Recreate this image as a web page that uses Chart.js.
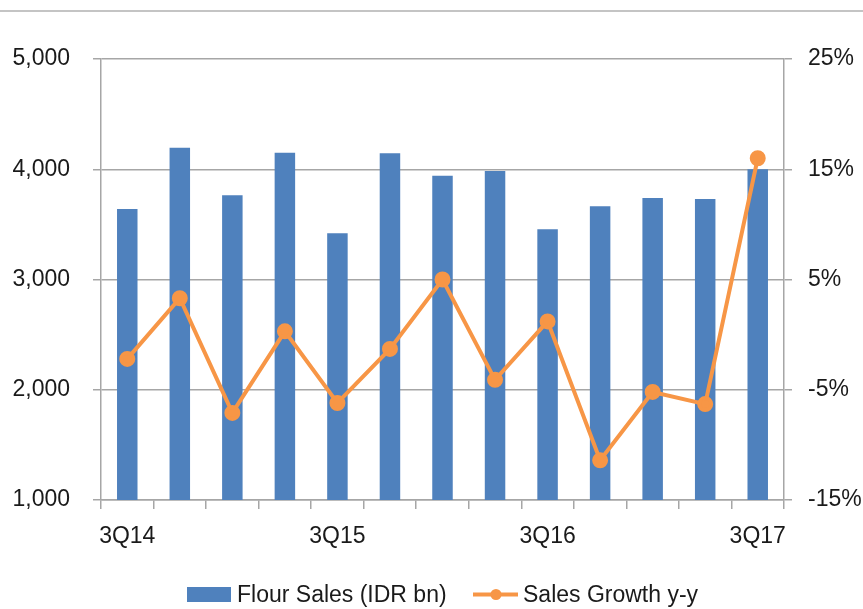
<!DOCTYPE html>
<html>
<head>
<meta charset="utf-8">
<script src="https://cdn.jsdelivr.net/npm/chart.js@4/dist/chart.umd.min.js"></script>
<style>
  html, body { margin: 0; padding: 0; background: #fff; overflow: hidden; }
  #wrap { position: relative; width: 863px; height: 609px; overflow: hidden; }
  #topline { position: absolute; left: 0; top: 10px; width: 863px; height: 2px; background: #c4c4c4; }
  #box { position: absolute; left: 0; top: 0; width: 863px; height: 609px; }
</style>
</head>
<body>
<div id="wrap">
  <div id="topline"></div>
  <div id="box"><canvas id="grafico"></canvas></div>
</div>
<script>
const categorias = ['3Q14', '4Q14', '1Q15', '2Q15', '3Q15', '4Q15', '1Q16', '2Q16', '3Q16', '4Q16', '1Q17', '2Q17', '3Q17'];
const vendasFarinha = [3640, 4195, 3765, 4150, 3420, 4145, 3940, 3985, 3455, 3665, 3740, 3730, 4000];
const crescimento = [-2.2, 3.3, -7.1, 0.3, -6.2, -1.3, 5.0, -4.1, 1.2, -11.4, -5.2, -6.3, 16.0];
const ticksEsquerda = [1000, 2000, 3000, 4000, 5000];
const ticksDireita = [-15, -5, 5, 15, 25];

const azul = '#4f81bd';
const laranja = '#f79646';
const cinza = '#a6a6a6';
const corTexto = '#1a1a1a';
const fonte = '"Liberation Sans", Arial, sans-serif';
const tamanho = 23;

// legenda desenhada a mão (caixa azul + linha com ponto)
const legendaManual = {
    id: 'legendaManual',
    afterDraw(chart) {
        const g = chart.ctx;
        const ds = chart.data.datasets;
        g.save();
        g.font = tamanho + 'px ' + fonte;
        g.textBaseline = 'alphabetic';

        g.fillStyle = ds[0].backgroundColor;
        g.fillRect(187, 587, 44, 15);
        g.fillStyle = corTexto;
        g.fillText(ds[0].label, 237, 602);

        g.strokeStyle = ds[1].borderColor;
        g.lineWidth = 4;
        g.beginPath(); g.moveTo(473, 594.5); g.lineTo(518, 594.5); g.stroke();
        g.fillStyle = ds[1].borderColor;
        g.beginPath(); g.arc(496, 594.5, 5.5, 0, Math.PI * 2); g.fill();
        g.fillStyle = corTexto;
        g.fillText(ds[1].label, 523, 602);
        g.restore();
    }
};

const ctx = document.getElementById('grafico').getContext('2d');
new Chart(ctx, {
    data: {
        labels: categorias,
        datasets: [{
            type: 'bar',
            label: 'Flour Sales (IDR bn)',
            data: vendasFarinha,
            backgroundColor: azul,
            barPercentage: 0.39,
            categoryPercentage: 1,
            yAxisID: 'y',
            order: 2
        }, {
            type: 'line',
            label: 'Sales Growth y-y',
            data: crescimento,
            borderColor: laranja,
            backgroundColor: laranja,
            borderWidth: 4,
            pointRadius: 6,
            pointHoverRadius: 6,
            tension: 0,
            yAxisID: 'y1',
            order: 1
        }]
    },
    options: {
        responsive: true,
        maintainAspectRatio: false,
        animation: false,
        layout: { padding: { top: 59, left: 0, right: 0, bottom: 49 } },
        plugins: {
            tooltip: { enabled: false },
            legend: { display: false }
        },
        scales: {
            x: {
                offset: true,
                grid: { display: true, drawOnChartArea: false, drawTicks: true, offset: true, tickLength: 9, color: cinza, lineWidth: 1.5 },
                border: { color: cinza, width: 1.5 },
                ticks: {
                    autoSkip: false,
                    maxRotation: 0,
                    padding: 14,
                    color: corTexto,
                    font: { family: fonte, size: tamanho },
                    callback: (v, i) => i % 4 === 0 ? categorias[i] : ''
                },
                afterFit: (s) => { s.height = 60; }
            },
            y: {
                position: 'left',
                min: 1000,
                max: 5000,
                afterBuildTicks: (s) => { s.ticks = ticksEsquerda.map(v => ({ value: v })); },
                grid: { color: cinza, lineWidth: 1.5, tickLength: 8 },
                border: { color: cinza, width: 1.5 },
                ticks: {
                    padding: 23,
                    color: corTexto,
                    font: { family: fonte, size: tamanho },
                    callback: (v) => v.toLocaleString('en-US')
                },
                afterFit: (s) => { s.width = 101; }
            },
            y1: {
                position: 'right',
                min: -15,
                max: 25,
                afterBuildTicks: (s) => { s.ticks = ticksDireita.map(v => ({ value: v })); },
                grid: { drawOnChartArea: false, color: cinza, lineWidth: 1.5, tickLength: 8 },
                border: { color: cinza, width: 1.5 },
                ticks: {
                    padding: 16,
                    color: corTexto,
                    font: { family: fonte, size: tamanho },
                    callback: (v) => v + '%'
                },
                afterFit: (s) => { s.width = 79; }
            }
        }
    },
    plugins: [legendaManual]
});
</script>
</body>
</html>
